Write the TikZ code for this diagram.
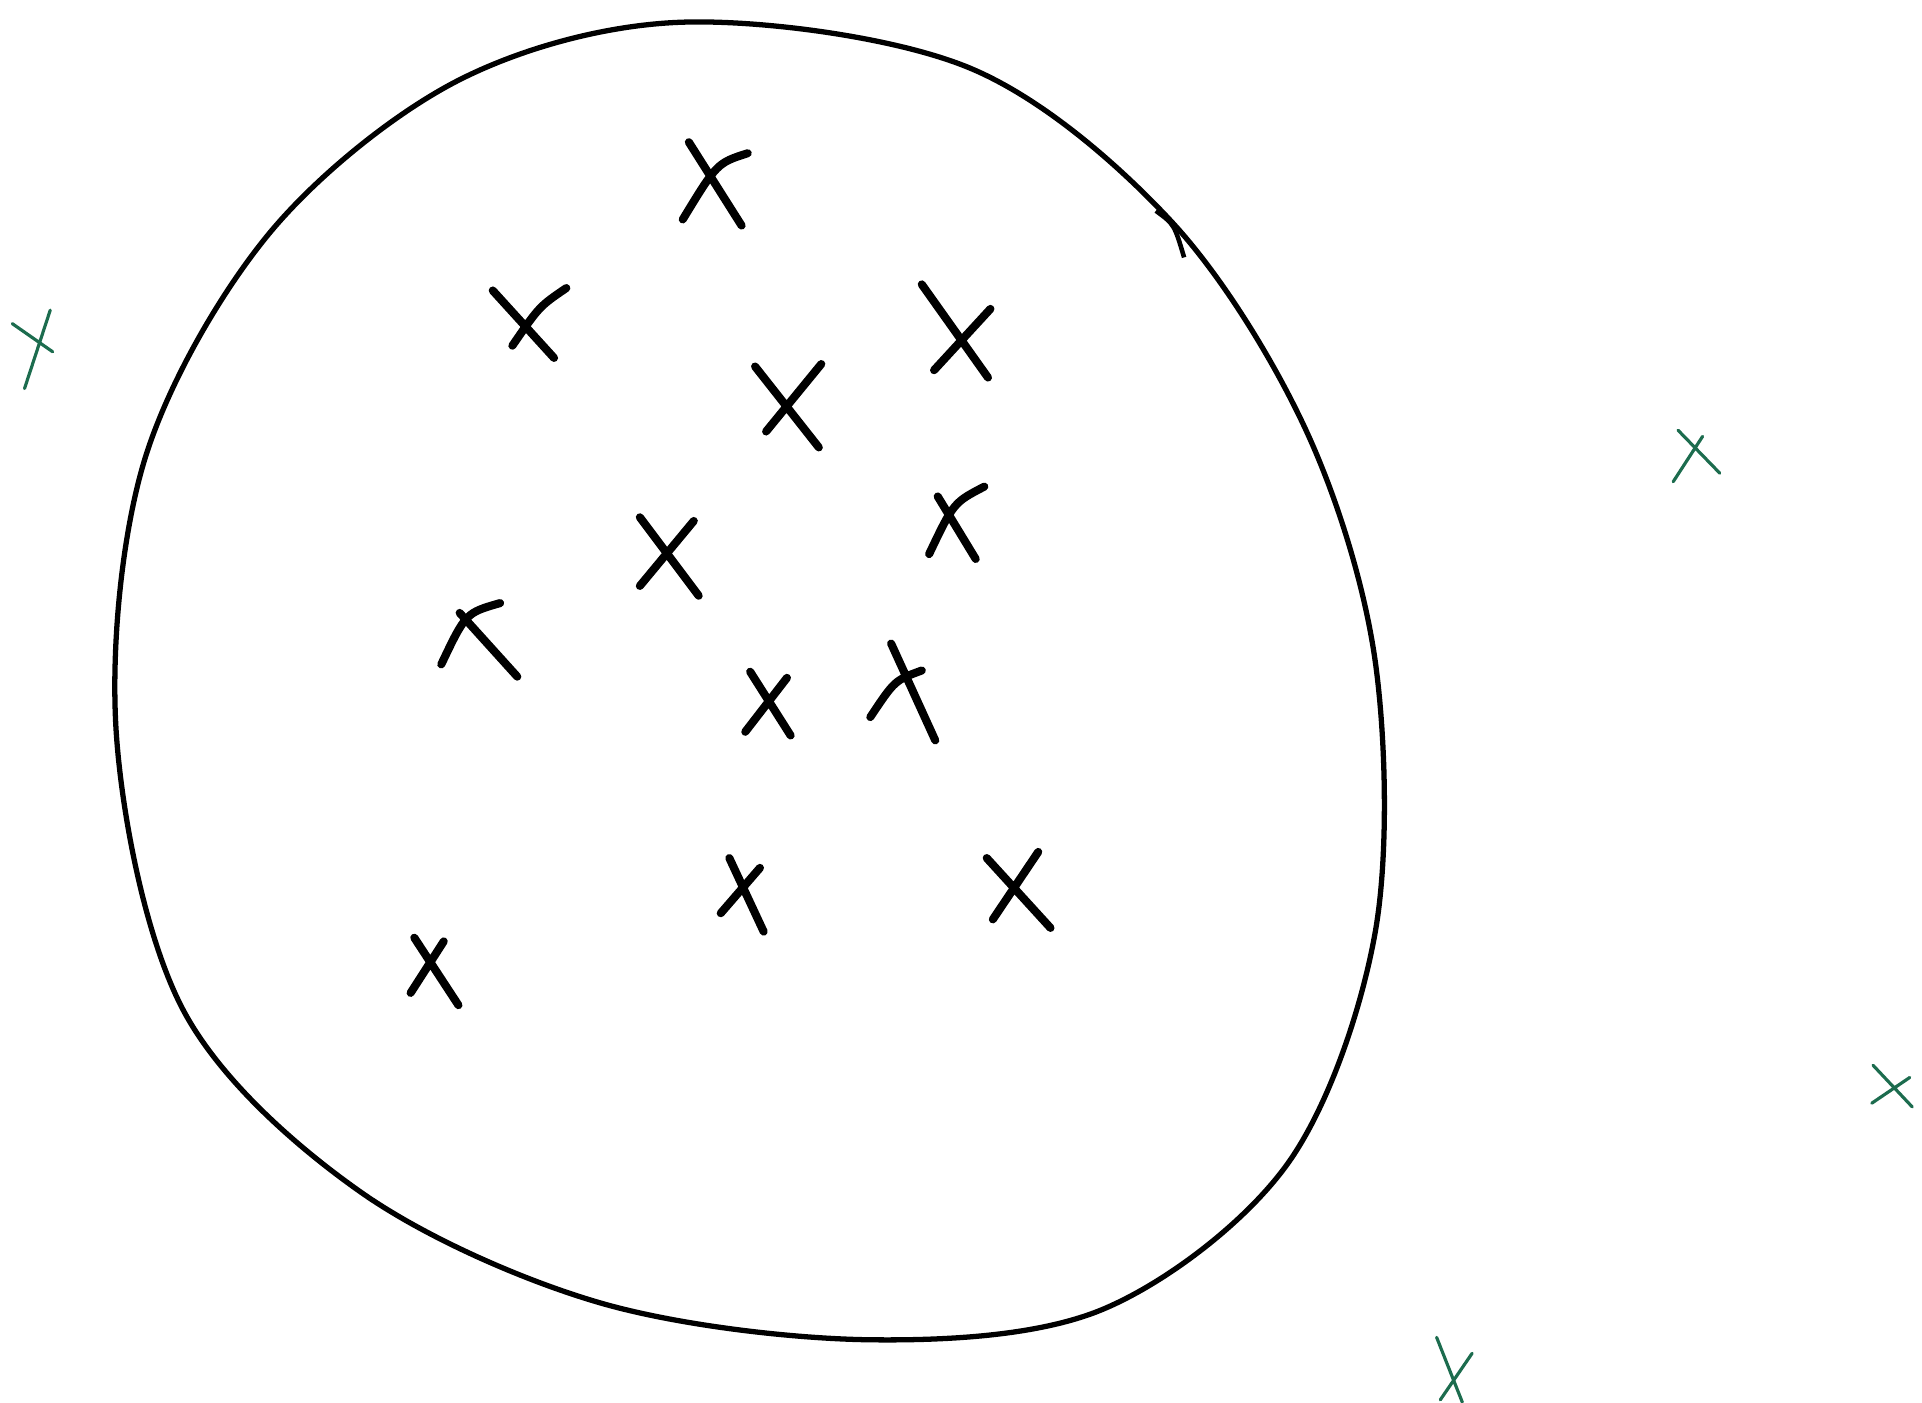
\documentclass[tikz,border=0pt]{standalone}
\usepackage{tikz}
\usetikzlibrary{positioning}
\definecolor{pengreen}{RGB}{28,108,78}
\tikzstyle{blob}=[draw=black, line width=1.5pt, line join=round]
\tikzstyle{inmark}=[draw=black, line width=2.3pt, line cap=round]
\tikzstyle{outmark}=[draw=pengreen, line width=0.9pt, line cap=round]

\begin{document}
\begin{tikzpicture}[x=0.012258cm, y=-0.012258cm]
	\useasboundingbox (0,0) rectangle (1568,1144);

	% the closed region
	\draw[blob] plot[smooth cycle, tension=0.55] coordinates {
		(560,18) (790,55) (955,180) (1065,350) (1122,540)
		(1122,760) (1050,950) (900,1068) (710,1093) (490,1063)
		(295,973) (150,825) (95,600) (118,375) (220,190) (375,65)};
	\draw[blob, line width=1.3pt] (943,172) .. controls (958,183) .. (966,210);

	% marks inside
	\draw[inmark] (562,116) -- (605,184) (557,179) .. controls (585,133) .. (610,125);
	\draw[inmark] (402,237) -- (452,292) (418,282) .. controls (440,250) .. (462,235);
	\draw[inmark] (752,232) -- (806,308) (762,302) -- (808,252);
	\draw[inmark] (616,299) -- (668,365) (625,352) -- (670,297);
	\draw[inmark] (522,422) -- (570,486) (522,478) -- (566,425);
	\draw[inmark] (765,405) -- (796,456) (758,452) .. controls (778,410) .. (803,397);
	\draw[inmark] (375,500) -- (422,552) (360,542) .. controls (380,500) .. (408,492);
	\draw[inmark] (612,548) -- (645,600) (608,597) -- (642,553);
	\draw[inmark] (727,525) -- (763,604) (710,585) .. controls (730,555) .. (752,547);
	\draw[inmark] (595,700) -- (623,760) (588,745) -- (620,708);
	\draw[inmark] (805,700) -- (857,757) (810,750) -- (847,695);
	\draw[inmark] (338,765) -- (374,820) (335,810) -- (362,768);

	% marks outside
	\draw[outmark] (41,253) -- (20,317) (10,264) -- (43,287);
	\draw[outmark] (1369,351) -- (1403,386) (1365,393) -- (1389,356);
	\draw[outmark] (1528,869) -- (1560,903) (1527,900) -- (1558,879);
	\draw[outmark] (1172,1091) -- (1193,1144) (1175,1142) -- (1201,1104);

\end{tikzpicture}
\end{document}
